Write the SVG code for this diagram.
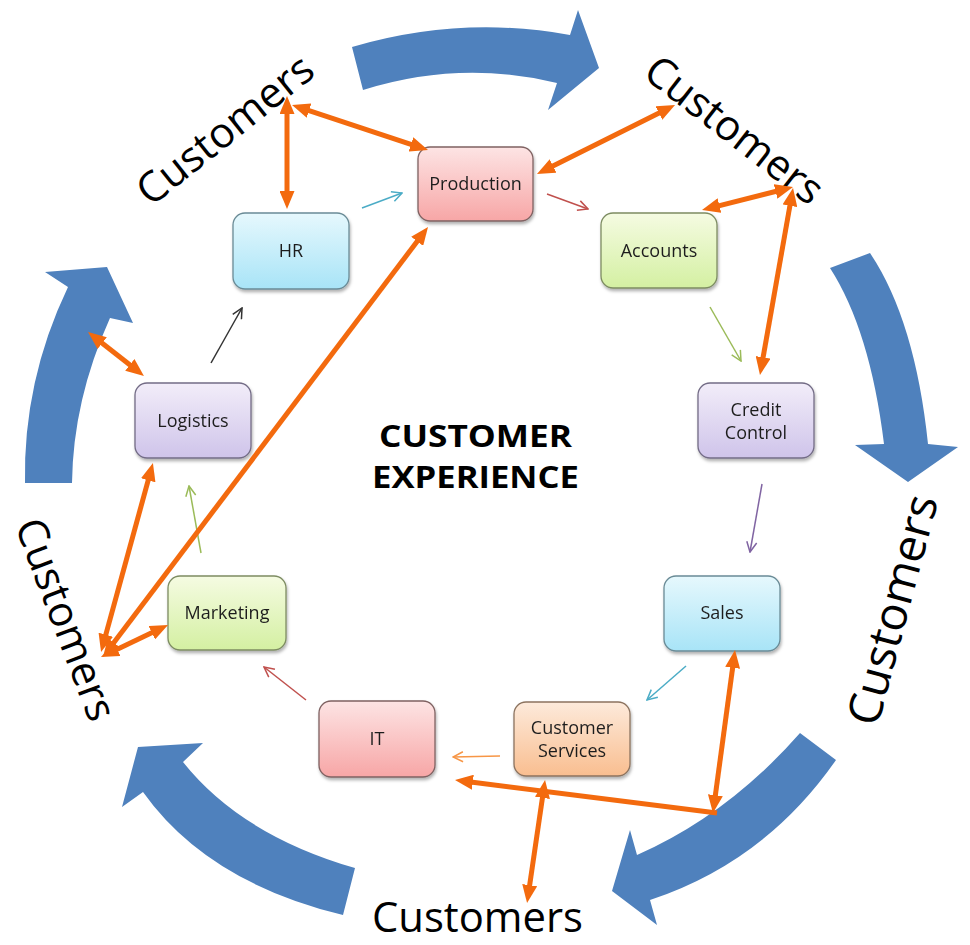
<svg xmlns="http://www.w3.org/2000/svg" width="970" height="945" viewBox="0 0 970 945">
<defs>
<style>
.box{stroke-width:1.3}
.lbl{font-family:"Open Sans","Noto Sans","Liberation Sans",sans-serif;font-size:18px;fill:#1f1f1f;text-anchor:middle}
.cust{font-family:"Open Sans","Noto Sans","Liberation Sans",sans-serif;font-size:42px;fill:#000;text-anchor:middle}
.title{font-family:"Open Sans","Noto Sans","Liberation Sans",sans-serif;font-weight:bold;font-size:30px;fill:#000;text-anchor:middle}
.blue{fill:#4f81bd}
.o{stroke:#f36a0e;stroke-width:5;fill:none}
.o2{marker-start:url(#oh);marker-end:url(#oh)}
.o1{marker-end:url(#oh)}
.t{fill:none;stroke-width:1.5}
.pink{fill:url(#gPink);stroke:#7f6262}
.green{fill:url(#gGreen);stroke:#7d8c62}
.lblue{fill:url(#gBlue);stroke:#6a8b96}
.purple{fill:url(#gPurple);stroke:#736c86}
.peach{fill:url(#gPeach);stroke:#8c735f}
</style>
<linearGradient id="gPink" x1="0" y1="0" x2="0" y2="1"><stop offset="0" stop-color="#fde4e4"/><stop offset="1" stop-color="#f7a6a6"/></linearGradient>
<linearGradient id="gGreen" x1="0" y1="0" x2="0" y2="1"><stop offset="0" stop-color="#f5fbe2"/><stop offset="1" stop-color="#d4f0a2"/></linearGradient>
<linearGradient id="gBlue" x1="0" y1="0" x2="0" y2="1"><stop offset="0" stop-color="#e6f8fd"/><stop offset="1" stop-color="#a8e4f7"/></linearGradient>
<linearGradient id="gPurple" x1="0" y1="0" x2="0" y2="1"><stop offset="0" stop-color="#f2edf9"/><stop offset="1" stop-color="#cfc4ea"/></linearGradient>
<linearGradient id="gPeach" x1="0" y1="0" x2="0" y2="1"><stop offset="0" stop-color="#fdeadb"/><stop offset="1" stop-color="#f9be90"/></linearGradient>
<filter id="sh" x="-10%" y="-10%" width="130%" height="140%"><feDropShadow dx="1" dy="2.5" stdDeviation="1.5" flood-color="#000" flood-opacity="0.3"/></filter>
<marker id="oh" markerUnits="userSpaceOnUse" viewBox="0 0 18 15" markerWidth="18" markerHeight="15" refX="8" refY="7.5" orient="auto-start-reverse"><path d="M0,0 L18,7.5 L0,15 Z" fill="#f36a0e"/></marker>
<marker id="mTeal" markerUnits="userSpaceOnUse" viewBox="0 0 12 12" markerWidth="12" markerHeight="12" refX="11" refY="6" orient="auto"><path d="M1,1 L11,6 L1,11" fill="none" stroke="#4bacc6" stroke-width="1.5"/></marker>
<marker id="mRed" markerUnits="userSpaceOnUse" viewBox="0 0 12 12" markerWidth="12" markerHeight="12" refX="11" refY="6" orient="auto"><path d="M1,1 L11,6 L1,11" fill="none" stroke="#c0504d" stroke-width="1.5"/></marker>
<marker id="mGreen" markerUnits="userSpaceOnUse" viewBox="0 0 12 12" markerWidth="12" markerHeight="12" refX="11" refY="6" orient="auto"><path d="M1,1 L11,6 L1,11" fill="none" stroke="#9bbb59" stroke-width="1.5"/></marker>
<marker id="mPurple" markerUnits="userSpaceOnUse" viewBox="0 0 12 12" markerWidth="12" markerHeight="12" refX="11" refY="6" orient="auto"><path d="M1,1 L11,6 L1,11" fill="none" stroke="#8064a2" stroke-width="1.5"/></marker>
<marker id="mOrange" markerUnits="userSpaceOnUse" viewBox="0 0 12 12" markerWidth="12" markerHeight="12" refX="11" refY="6" orient="auto"><path d="M1,1 L11,6 L1,11" fill="none" stroke="#f79646" stroke-width="1.5"/></marker>
<marker id="mDark" markerUnits="userSpaceOnUse" viewBox="0 0 12 12" markerWidth="12" markerHeight="12" refX="11" refY="6" orient="auto"><path d="M1,1 L11,6 L1,11" fill="none" stroke="#333" stroke-width="1.5"/></marker>
</defs>
<rect width="970" height="945" fill="#fff"/>

<g id="cycle-arrows">
<path class="blue" d="M352,47 Q461,15 570,35 L578,10 L599,68 L548,110 L557,83 Q460,59.5 363,90 Z"/>
<path class="blue" d="M870,253 Q915,320 928,444 L958,447 L908,482 L855,445 L884,444 Q870,330 830,268 Z"/>
<path class="blue" d="M836,760 Q765,862 650,900 L657,925 L612,891 L630,830 L637,855 Q728,815 800,733 Z"/>
<path class="blue" d="M355,868 Q241,835 183,762 L203,743 L138,747 L122,807 L143,792 Q207,882 343,915 Z"/>
<path class="blue" d="M25,483 Q23,381 68,287 L45,272 L107,267 L133,323 L110,318 Q73,400 72,483 Z"/>
</g>

<g id="cust-topleft"><text class="cust" transform="translate(234,141) rotate(-38.6)" textLength="213" lengthAdjust="spacingAndGlyphs">Customers</text></g>
<g id="cust-topright"><text class="cust" transform="translate(725.5,141.3) rotate(37.8)" textLength="213" lengthAdjust="spacingAndGlyphs">Customers</text></g>
<g id="cust-right"><text class="cust" style="font-size:46px" transform="translate(908,614) rotate(-75)" textLength="236" lengthAdjust="spacingAndGlyphs">Customers</text></g>
<g id="cust-bottom"><text class="cust" x="477.5" y="932" textLength="211" lengthAdjust="spacingAndGlyphs">Customers</text></g>
<g id="cust-left"><text class="cust" transform="translate(52.3,624.6) rotate(69.2)" textLength="213" lengthAdjust="spacingAndGlyphs">Customers</text></g>

<g id="title">
<text class="title" x="475.5" y="447" textLength="193" lengthAdjust="spacingAndGlyphs">CUSTOMER</text>
<text class="title" x="475.5" y="488" textLength="207" lengthAdjust="spacingAndGlyphs">EXPERIENCE</text>
</g>

<g id="node-production" filter="url(#sh)"><rect class="box pink" x="418" y="147" width="115" height="74" rx="12"/><text class="lbl" x="475.5" y="190">Production</text></g>
<g id="node-accounts" filter="url(#sh)"><rect class="box green" x="601" y="213" width="116" height="75" rx="12"/><text class="lbl" x="659" y="257">Accounts</text></g>
<g id="node-credit" filter="url(#sh)"><rect class="box purple" x="698" y="383" width="116" height="75" rx="12"/><text class="lbl" x="756" y="416">Credit</text><text class="lbl" x="756" y="439">Control</text></g>
<g id="node-sales" filter="url(#sh)"><rect class="box lblue" x="664" y="576" width="116" height="75" rx="12"/><text class="lbl" x="722" y="619">Sales</text></g>
<g id="node-custserv" filter="url(#sh)"><rect class="box peach" x="514" y="702" width="116" height="74" rx="12"/><text class="lbl" x="572" y="734">Customer</text><text class="lbl" x="572" y="757">Services</text></g>
<g id="node-it" filter="url(#sh)"><rect class="box pink" x="319" y="701" width="116" height="76" rx="12"/><text class="lbl" x="377" y="745">IT</text></g>
<g id="node-marketing" filter="url(#sh)"><rect class="box green" x="168" y="576" width="118" height="74" rx="12"/><text class="lbl" x="227" y="619">Marketing</text></g>
<g id="node-logistics" filter="url(#sh)"><rect class="box purple" x="135" y="383" width="116" height="75" rx="12"/><text class="lbl" x="193" y="427">Logistics</text></g>
<g id="node-hr" filter="url(#sh)"><rect class="box lblue" x="233" y="213" width="116" height="76" rx="12"/><text class="lbl" x="291" y="257">HR</text></g>

<g id="connectors">
<line class="t" x1="362" y1="208" x2="402" y2="193" stroke="#4bacc6" marker-end="url(#mTeal)"/>
<line class="t" x1="547" y1="194" x2="588" y2="209" stroke="#c0504d" marker-end="url(#mRed)"/>
<line class="t" x1="710" y1="307" x2="741" y2="361" stroke="#9bbb59" marker-end="url(#mGreen)"/>
<line class="t" x1="762" y1="484" x2="750" y2="552" stroke="#8064a2" marker-end="url(#mPurple)"/>
<line class="t" x1="686" y1="666" x2="647" y2="700" stroke="#4bacc6" marker-end="url(#mTeal)"/>
<line class="t" x1="500" y1="756" x2="453" y2="757" stroke="#f79646" marker-end="url(#mOrange)"/>
<line class="t" x1="306" y1="700" x2="264" y2="667" stroke="#c0504d" marker-end="url(#mRed)"/>
<line class="t" x1="201" y1="553" x2="189" y2="486" stroke="#9bbb59" marker-end="url(#mGreen)"/>
<line class="t" x1="211" y1="363" x2="242" y2="308" stroke="#333" marker-end="url(#mDark)"/>

<line class="o o2" x1="287" y1="106" x2="287" y2="199"/>
<line class="o o2" x1="301.5" y1="108.1" x2="418.5" y2="146.9"/>
<line class="o o2" x1="545.9" y1="169.5" x2="666.1" y2="109.5"/>
<line class="o o2" x1="711.7" y1="207.6" x2="783.3" y2="189.5"/>
<line class="o o2" x1="761.7" y1="365.2" x2="791.3" y2="197.9"/>
<line class="o o2" x1="95.9" y1="338.2" x2="136.1" y2="369.8"/>
<line class="o o2" x1="103.7" y1="642.4" x2="150.3" y2="472.6"/>
<line class="o o2" x1="109" y1="649" x2="422" y2="235"/>
<line class="o o2" x1="110" y1="652.7" x2="159" y2="629.3"/>
<line class="o o2" x1="733.7" y1="659.9" x2="714.3" y2="803.1"/>
<line class="o o1" x1="717" y1="813" x2="464.9" y2="781.3"/>
<line class="o o2" x1="543.6" y1="789.9" x2="528.5" y2="893.1"/>
</g>
</svg>
